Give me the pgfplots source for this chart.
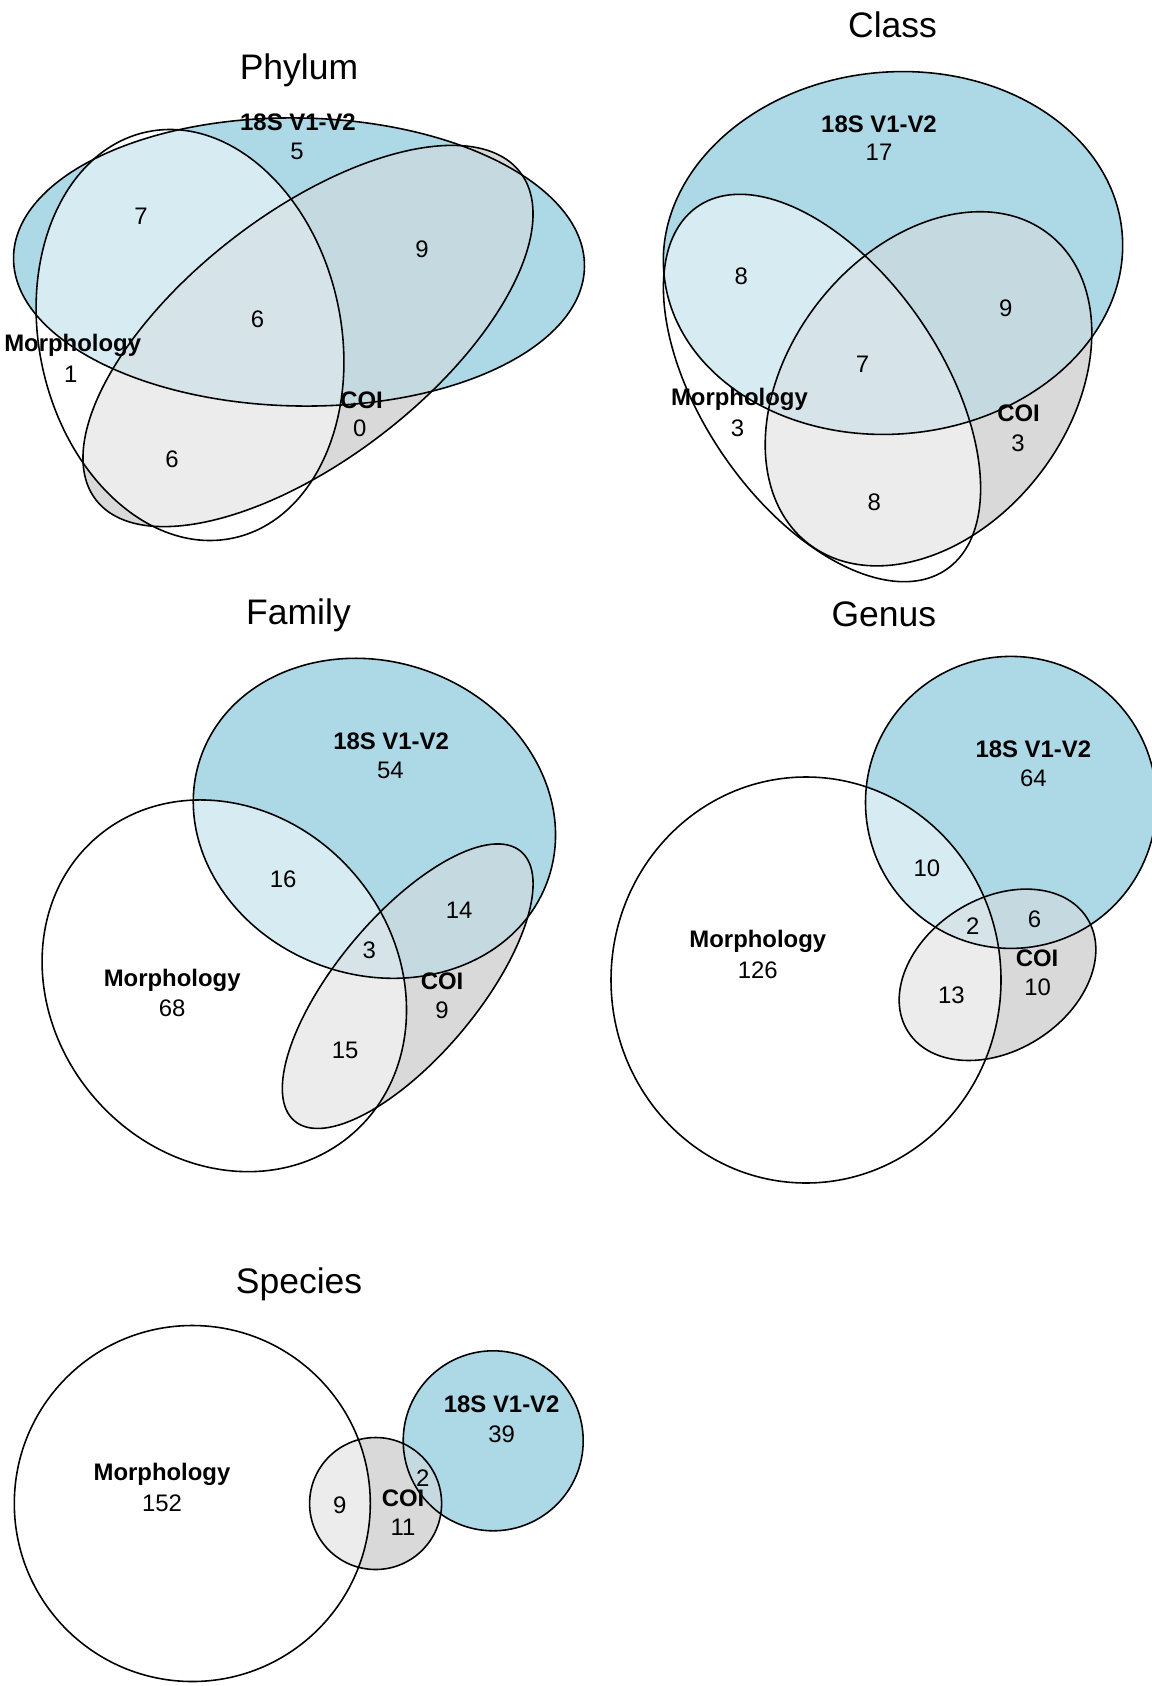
\documentclass[border=0pt]{standalone}
\usepackage{pgfplots}
\pgfplotsset{compat=1.18}
\usepackage{fontspec}
\setmainfont{Liberation Sans}
\definecolor{cS}{HTML}{ADD8E6}
\definecolor{cC}{HTML}{D9D9D9}
\definecolor{cSC}{HTML}{C4D9E0}
\definecolor{cMS}{HTML}{D6EBF2}
\definecolor{cMC}{HTML}{ECECEC}
\definecolor{cMSC}{HTML}{D6E4E9}
\newcommand\lab{\fontsize{6.8}{8}\selectfont}
\newcommand\ttl{\fontsize{10.1}{12}\selectfont}
% shapes: centre in pixel coordinates, radii in cm (1 px = 0.01 cm)
\newcommand\PhyS[1]{\path[#1] (axis cs:299,262) ellipse [x radius=2.855cm, y radius=1.44cm, rotate=-1];}
\newcommand\PhyM[1]{\path[#1] (axis cs:190,335) ellipse [x radius=1.51cm, y radius=2.076cm, rotate=12];}
\newcommand\PhyC[1]{\path[#1] (axis cs:308,336) ellipse [x radius=2.68cm, y radius=1.23cm, rotate=37.7];}
\newcommand\ClaS[1]{\path[#1] (axis cs:893,253) ellipse [x radius=2.30cm, y radius=1.81cm, rotate=5];}
\newcommand\ClaM[1]{\path[#1] (axis cs:822,388) ellipse [x radius=2.20cm, y radius=1.194cm, rotate=-55.6];}
\newcommand\ClaC[1]{\path[#1] (axis cs:928.5,388.8) ellipse [x radius=1.96cm, y radius=1.40cm, rotate=52.2];}
\newcommand\FamS[1]{\path[#1] (axis cs:374.4,818.3) ellipse [x radius=1.841cm, y radius=1.565cm, rotate=-20];}
\newcommand\FamM[1]{\path[#1] (axis cs:224.3,985.8) ellipse [x radius=1.958cm, y radius=1.715cm, rotate=-49.3];}
\newcommand\FamC[1]{\path[#1] (axis cs:407.7,986.2) ellipse [x radius=1.76cm, y radius=0.705cm, rotate=50];}
\newcommand\GenS[1]{\path[#1] (axis cs:1011,802.4) ellipse [x radius=1.455cm, y radius=1.46cm, rotate=0];}
\newcommand\GenM[1]{\path[#1] (axis cs:806,980) ellipse [x radius=1.95cm, y radius=2.03cm, rotate=0];}
\newcommand\GenC[1]{\path[#1] (axis cs:997.5,974.8) ellipse [x radius=1.06cm, y radius=0.76cm, rotate=32.4];}
\newcommand\SpeS[1]{\path[#1] (axis cs:493.2,1440.8) ellipse [x radius=0.90cm, y radius=0.90cm, rotate=0];}
\newcommand\SpeM[1]{\path[#1] (axis cs:192.3,1503.5) ellipse [x radius=1.78cm, y radius=1.78cm, rotate=0];}
\newcommand\SpeC[1]{\path[#1] (axis cs:375.6,1503.5) ellipse [x radius=0.66cm, y radius=0.66cm, rotate=0];}
\newcommand\drawvenn[1]{%
  \csname #1S\endcsname{fill=cS}%
  \csname #1C\endcsname{fill=cC}%
  \begin{scope}\csname #1S\endcsname{clip}\csname #1C\endcsname{fill=cSC}\end{scope}%
  \begin{scope}\csname #1M\endcsname{clip}\csname #1S\endcsname{fill=cMS}\end{scope}%
  \begin{scope}\csname #1M\endcsname{clip}\csname #1C\endcsname{fill=cMC}\end{scope}%
  \begin{scope}\csname #1M\endcsname{clip}\csname #1S\endcsname{clip}\csname #1C\endcsname{fill=cMSC}\end{scope}%
  \csname #1M\endcsname{draw=black, line width=0.45pt}%
  \csname #1S\endcsname{draw=black, line width=0.45pt}%
  \csname #1C\endcsname{draw=black, line width=0.45pt}%
}
\begin{document}
\begin{tikzpicture}
\begin{axis}[width=11.52cm, height=16.86cm, scale only axis,
  xmin=0, xmax=1152, ymin=0, ymax=1686, y dir=reverse,
  axis lines=none, ticks=none, enlargelimits=false]
\drawvenn{Phy}
\drawvenn{Cla}
\drawvenn{Fam}
\drawvenn{Gen}
\drawvenn{Spe}
% titles
\node[font=\ttl] at (axis cs:299,70) {Phylum};
\node[font=\ttl] at (axis cs:892.6,25) {Class};
\node[font=\ttl] at (axis cs:298.5,615) {Family};
\node[font=\ttl] at (axis cs:883.8,614) {Genus};
\node[font=\ttl] at (axis cs:299,1284) {Species};
% Phylum
\node[font=\lab\bfseries] at (axis cs:298,122.5) {18S V1-V2};
\node[font=\lab] at (axis cs:297,151.7) {5};
\node[font=\lab] at (axis cs:141,216) {7};
\node[font=\lab] at (axis cs:422,249) {9};
\node[font=\lab] at (axis cs:257.5,319.6) {6};
\node[font=\lab\bfseries] at (axis cs:72.7,345.7) {Morphology};
\node[font=\lab] at (axis cs:70.8,374) {1};
\node[font=\lab\bfseries] at (axis cs:361.6,400) {COI};
\node[font=\lab] at (axis cs:359.7,428.5) {0};
\node[font=\lab] at (axis cs:172,459) {6};
% Class
\node[font=\lab\bfseries] at (axis cs:879,124.7) {18S V1-V2};
\node[font=\lab] at (axis cs:879,152.4) {17};
\node[font=\lab] at (axis cs:741.3,276.7) {8};
\node[font=\lab] at (axis cs:1005.7,307.8) {9};
\node[font=\lab] at (axis cs:862.5,364.4) {7};
\node[font=\lab\bfseries] at (axis cs:739.4,399.5) {Morphology};
\node[font=\lab] at (axis cs:737.6,428.4) {3};
\node[font=\lab\bfseries] at (axis cs:1018.6,413.6) {COI};
\node[font=\lab] at (axis cs:1017.9,443.2) {3};
\node[font=\lab] at (axis cs:874.3,502.3) {8};
% Family
\node[font=\lab\bfseries] at (axis cs:391.1,741.5) {18S V1-V2};
\node[font=\lab] at (axis cs:390.3,770.2) {54};
\node[font=\lab] at (axis cs:283.2,879.3) {16};
\node[font=\lab] at (axis cs:459.2,909.9) {14};
\node[font=\lab] at (axis cs:369.3,950.4) {3};
\node[font=\lab\bfseries] at (axis cs:172.2,979.9) {Morphology};
\node[font=\lab] at (axis cs:172.2,1008.6) {68};
\node[font=\lab\bfseries] at (axis cs:442,981) {COI};
\node[font=\lab] at (axis cs:442,1010.5) {9};
\node[font=\lab] at (axis cs:345.2,1050) {15};
% Genus
\node[font=\lab\bfseries] at (axis cs:1033.3,749.2) {18S V1-V2};
\node[font=\lab] at (axis cs:1033.3,777.9) {64};
\node[font=\lab] at (axis cs:926.8,868) {10};
\node[font=\lab] at (axis cs:1034.4,919.5) {6};
\node[font=\lab] at (axis cs:972.7,926.3) {2};
\node[font=\lab\bfseries] at (axis cs:757.8,941.6) {Morphology};
\node[font=\lab] at (axis cs:757.8,970.4) {126};
\node[font=\lab\bfseries] at (axis cs:1037,958.1) {COI};
\node[font=\lab] at (axis cs:1037.7,986.8) {10};
\node[font=\lab] at (axis cs:951.4,995.2) {13};
% Species
\node[font=\lab\bfseries] at (axis cs:501.7,1404.3) {18S V1-V2};
\node[font=\lab] at (axis cs:501.7,1434.4) {39};
\node[font=\lab\bfseries] at (axis cs:162,1474.6) {Morphology};
\node[font=\lab] at (axis cs:162,1503) {152};
\node[font=\lab] at (axis cs:339.7,1505.4) {9};
\node[font=\lab\bfseries] at (axis cs:403,1498) {COI};
\node[font=\lab] at (axis cs:403,1527.5) {11};
\node[font=\lab] at (axis cs:422.7,1478) {2};
\end{axis}
\pgfresetboundingbox
\path[use as bounding box] (current axis.south west) rectangle (current axis.north east);
\end{tikzpicture}
\end{document}
